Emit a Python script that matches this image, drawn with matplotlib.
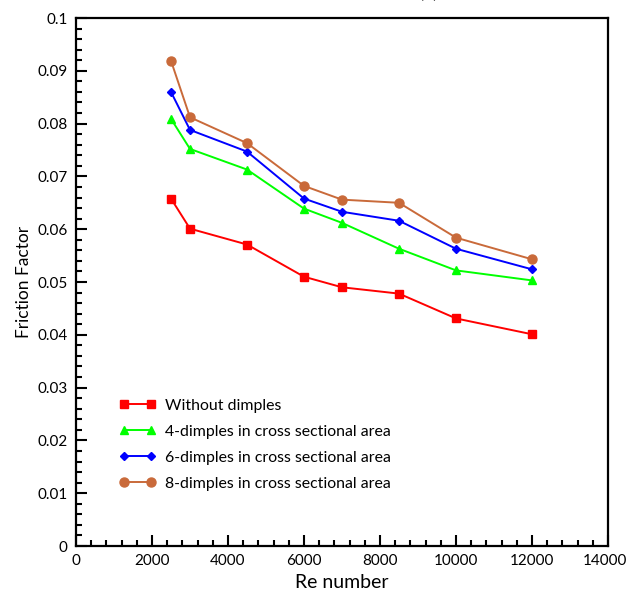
import matplotlib.pyplot as plt
import matplotlib.transforms as mtransforms
from matplotlib.ticker import MultipleLocator
import numpy as np

plt.rcParams['font.family'] = ['Lato', 'DejaVu Sans']

re_number = [2500, 3000, 4500, 6000, 7000, 8500, 10000, 12000]
f_plain = [0.0658, 0.0601, 0.0571, 0.0510, 0.0490, 0.0478, 0.0431, 0.0401]
f_4dimples = [0.0809, 0.0752, 0.0713, 0.0639, 0.0612, 0.0563, 0.0522, 0.0503]
f_6dimples = [0.0860, 0.0788, 0.0747, 0.0658, 0.0633, 0.0616, 0.0563, 0.0524]
f_8dimples = [0.0919, 0.0812, 0.0763, 0.0682, 0.0656, 0.0650, 0.0584, 0.0543]

labels = ['Without dimples',
          '4-dimples in cross sectional area',
          '6-dimples in cross sectional area',
          '8-dimples in cross sectional area']


def make_plot():
    fig = plt.figure(figsize=(6.27, 6.0), dpi=100)
    ax = fig.add_axes([76 / 627, 54 / 600, 532 / 627, 528 / 600])

    ax.plot(re_number, f_plain, color='#FF0000', marker='s', markersize=6, lw=1.4, label=labels[0])
    ax.plot(re_number, f_4dimples, color='#00FF00', marker='^', markersize=5.5, lw=1.4, label=labels[1])
    ax.plot(re_number, f_6dimples, color='#0000FF', marker='D', markersize=4.5, lw=1.4, label=labels[2])
    ax.plot(re_number, f_8dimples, color='#C96A3A', marker='o', markersize=6.5, lw=1.4, label=labels[3])

    ax.set_xlim(0, 14000)
    ax.set_ylim(0, 0.1)
    ax.set_xticks(np.arange(0, 14001, 2000))
    ax.xaxis.set_minor_locator(MultipleLocator(400))
    ax.yaxis.set_minor_locator(MultipleLocator(0.002))
    ax.set_yticks(np.arange(0, 0.101, 0.01))
    ax.set_yticklabels(['0'] + [f'{v:.2f}' for v in np.arange(0.01, 0.095, 0.01)] + ['0.1'])

    ax.tick_params(which='both', direction='in', top=False, right=False, width=1.5, labelsize=11)
    ax.tick_params(which='major', length=8, pad=6)
    ax.tick_params(which='minor', length=4)
    for s in ax.spines.values():
        s.set_linewidth(1.6)

    # keep the last x label inside the figure edge
    last = ax.get_xticklabels()[-1]
    last.set_transform(last.get_transform() +
                       mtransforms.ScaledTranslation(-3 / 100, 0, fig.dpi_scale_trans))

    ax.set_xlabel('Re number', fontsize=14, labelpad=4)
    ax.set_ylabel('Friction Factor', fontsize=12.5, labelpad=4)

    ax.legend(loc='lower left', bbox_to_anchor=(0.055, 0.078), frameon=False,
              numpoints=2, handlelength=2.3, handletextpad=0.6, fontsize=11.4,
              labelspacing=0.75)

    fig.text(428 / 627, 1 + 3 / 600, '(a)', ha='center', va='baseline', fontsize=14)

    fig.savefig('out.png', dpi=100)


make_plot()
